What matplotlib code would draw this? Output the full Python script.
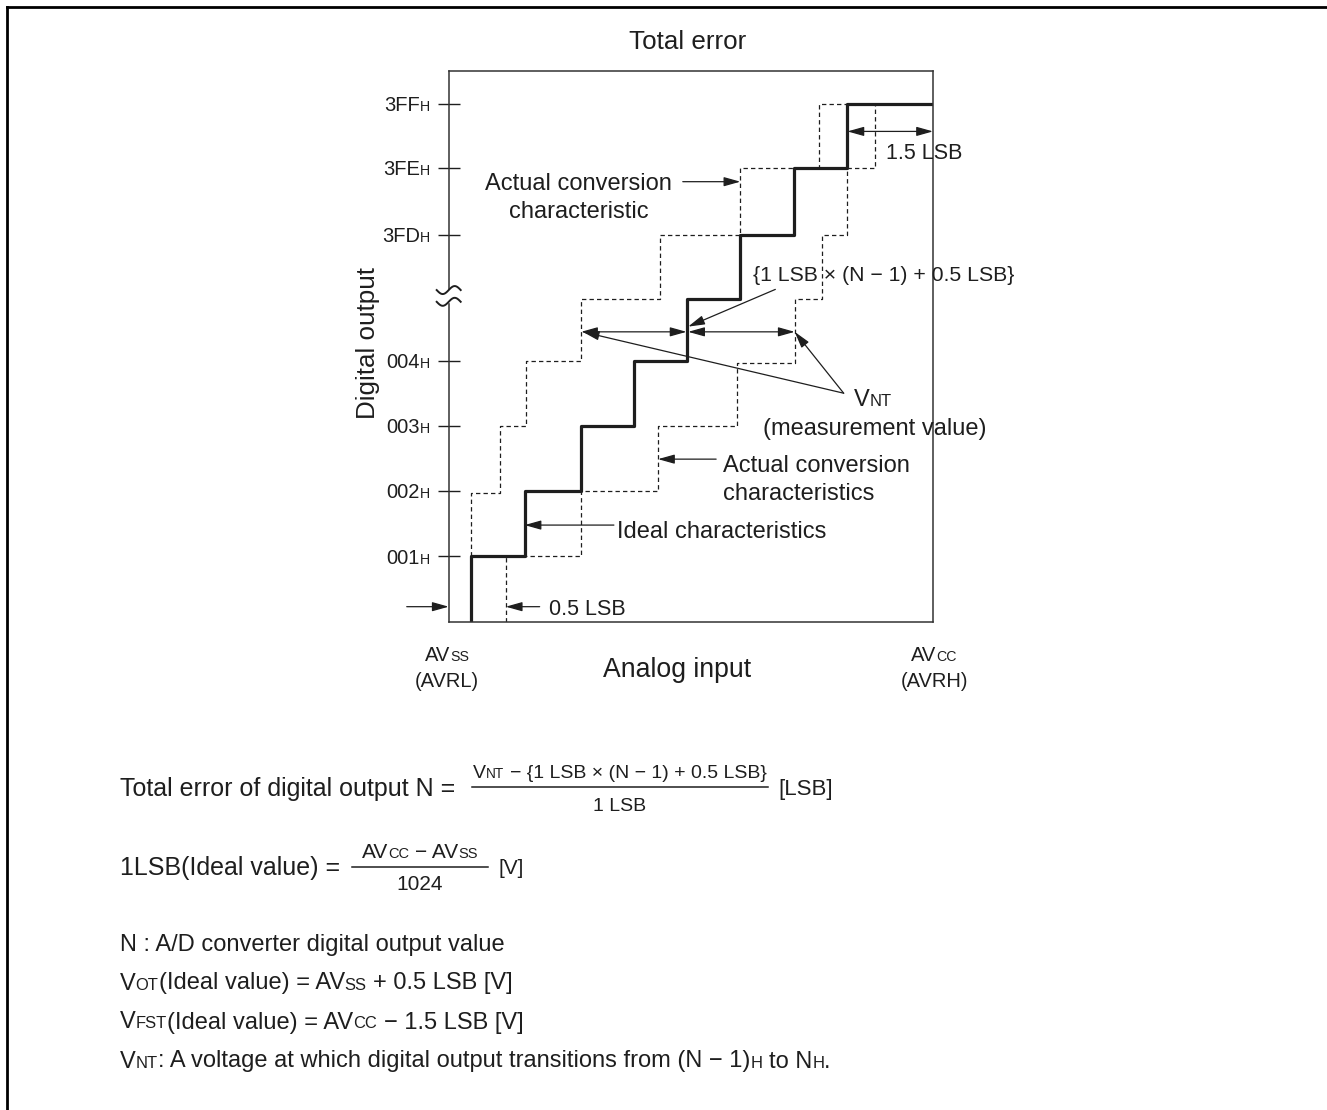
import re
import numpy as np
import matplotlib
matplotlib.use('Agg')
import matplotlib.pyplot as plt
from matplotlib.font_manager import FontProperties

FONT = ['Liberation Sans', 'DejaVu Sans']
INK = '#1e1e1e'
plt.rcParams['font.family'] = FONT

# staircases, x in LSB from AVss, y in output codes (break between 004H and 3FDH)
ideal_x = [0.41, 0.41, 1.41, 2.46, 3.44, 4.43, 5.42, 6.41, 7.41, 9.0]
ideal_y = [0, 1, 2, 3, 4, 4.94, 5.92, 6.95, 7.93, 7.93]
early_x = [0.41, 0.41, 0.96, 1.43, 2.46, 3.92, 5.42, 6.89, 7.41]
early_y = [1, 1.97, 3.0, 4.0, 4.94, 5.92, 6.95, 7.93, 7.93]
late_x = [1.06, 1.06, 2.46, 3.89, 5.35, 6.43, 6.93, 7.41, 7.92]
late_y = [0, 1, 2, 3, 3.97, 4.94, 5.92, 6.95, 7.93]

tick_pos = [1, 2, 3, 4, 5.92, 6.95, 7.93]
tick_names = ['001', '002', '003', '004', '3FD', '3FE', '3FF']

W, H = 1327, 1110
fig = plt.figure(figsize=(W / 100, H / 100), dpi=100)
ax = fig.add_axes([448.7 / W, 1 - 621.7 / H, 484.3 / W, 551 / H])
bg = fig.add_axes([0, 0, 1, 1], zorder=3)
bg.set_xlim(0, W)
bg.set_ylim(H, 0)
bg.axis('off')
bg.patch.set_visible(False)

ax.set_xlim(0, 9.0)
ax.set_ylim(0, 8.44)
ax.plot(ideal_x, ideal_y, drawstyle='steps-post', color=INK, lw=2.3)
ax.plot(early_x, early_y, drawstyle='steps-post', color=INK, lw=0.9, ls=(0, (3.5, 2.5)))
ax.plot(late_x, late_y, drawstyle='steps-post', color=INK, lw=0.9, ls=(0, (3.5, 2.5)))
ax.set_xticks([])
ax.set_yticks(tick_pos)
ax.set_yticklabels([])
ax.tick_params(axis='y', direction='inout', length=16, width=1.0, color=INK)
for sp in ax.spines.values():
    sp.set_linewidth(1.1)
    sp.set_color('#333333')

rend = fig.canvas.get_renderer()


def tw(s, fs):
    fp = FontProperties(family=FONT, size=fs)
    a = rend.get_text_width_height_descent('|' + s + '|', fp, ismath=False)[0]
    b = rend.get_text_width_height_descent('||', fp, ismath=False)[0]
    return a - b


def rich(x, y, s, fs, ha='left', small=0.7):
    """text with _{..} parts drawn small on the baseline, y is the centre"""
    pieces = re.split(r'_\{(.*?)\}', s)
    parts = [(p, fs * small if i % 2 else fs) for i, p in enumerate(pieces) if p]
    widths = [tw(p, z) for p, z in parts]
    total = sum(widths)
    x0 = x - {'left': 0, 'center': total / 2, 'right': total}[ha]
    yb = y + 0.5 * fs
    for (p, z), w in zip(parts, widths):
        lead = p[:len(p) - len(p.lstrip())]
        bg.text(x0 + (tw(lead, z) if lead else 0), yb, p.strip(), fontsize=z,
                color=INK, ha='left', va='baseline')
        x0 += w
    return total


def px(u, v):
    d = ax.transData.transform((u, v))
    return d[0], H - d[1]


def arrow(p0, p1, style='-|>'):
    ax.annotate('', xy=p1, xytext=p0, annotation_clip=False,
                arrowprops=dict(arrowstyle=style + ',head_length=0.5,head_width=0.14',
                                mutation_scale=20, lw=0.9, color=INK,
                                shrinkA=0, shrinkB=0))


# outer frame
bg.plot([7, 7], [H, 7], color='black', lw=2)
bg.plot([7, W], [7, 7], color='black', lw=2)

# axis break on the left spine
bx, _ = px(0, 0)
by0, by1 = px(0, 4.90)[1], px(0, 5.08)[1]
bg.fill_between([bx - 3, bx + 3], by0, by1, color='white', zorder=4)
t = np.linspace(-1, 1, 30)
for yy in (by0, by1):
    bg.plot(bx + 12 * t, yy - 4 * np.sin(np.pi * t), color=INK, lw=1.4, zorder=5)

# tick labels
for v, name in zip(tick_pos, tick_names):
    rich(430, px(0, v)[1], name + '_{H}', 14.5, 'right')

rich(688, 40, 'Total error', 18.7, 'center')
bg.text(368, 343, 'Digital output', fontsize=18.7, rotation=90, ha='center', va='center', color=INK)
rich(447, 654, 'AV_{SS}', 14.5, 'center')
rich(447, 680, '(AVRL)', 14.5, 'center')
rich(934, 654, 'AV_{CC}', 14.5, 'center')
rich(934, 680, '(AVRH)', 14.5, 'center')
rich(677, 667, 'Analog input', 19.2, 'center')

# annotations inside the chart
arrow((7.41, 7.51), (9.0, 7.51), '<|-|>')
rich(886, 151, '1.5 LSB', 15.5)
arrow((4.35, 6.74), (5.42, 6.74))
rich(578.5, 182, 'Actual conversion', 17, 'center')
rich(578.5, 210, 'characteristic', 17, 'center')
arrow((6.07, 5.09), (4.45, 4.52))
rich(753, 273, '{1 LSB × (N − 1) + 0.5 LSB}', 15.3)
arrow((2.46, 4.44), (4.42, 4.44), '<|-|>')
arrow((4.45, 4.44), (6.43, 4.44), '<|-|>')
arrow((7.34, 3.50), (2.49, 4.44))
arrow((7.34, 3.50), (6.43, 4.44))
rich(873, 398, 'V_{NT}', 17, 'center')
rich(875, 427, '(measurement value)', 17, 'center')
arrow((4.97, 2.49), (3.89, 2.49))
rich(723, 463, 'Actual conversion', 17)
rich(723, 492, 'characteristics', 17)
arrow((3.07, 1.48), (1.41, 1.48))
rich(617, 529, 'Ideal characteristics', 17)
arrow((1.69, 0.23), (1.06, 0.23))
arrow((-0.78, 0.23), (0, 0.23))
rich(549, 607, '0.5 LSB', 15.5)

# formulas below the chart
rich(120, 787, 'Total error of digital output N =', 18)
rich(620, 771, 'V_{NT} − {1 LSB × (N − 1) + 0.5 LSB}', 14, 'center')
bg.plot([472, 768], [787, 787], color=INK, lw=1.1)
rich(620, 804, '1 LSB', 14, 'center')
rich(778, 787, '[LSB]', 16)

rich(120, 866, '1LSB(Ideal value) =', 18)
rich(420, 851, 'AV_{CC} − AV_{SS}', 15, 'center')
bg.plot([352, 488], [867, 867], color=INK, lw=1.1)
rich(420, 882, '1024', 15, 'center')
rich(498, 866, '[V]', 15)

rich(120, 942, 'N : A/D converter digital output value', 17)
rich(120, 981, 'V_{OT}(Ideal value) = AV_{SS} + 0.5 LSB [V]', 17)
rich(120, 1020, 'V_{FST}(Ideal value) = AV_{CC} − 1.5 LSB [V]', 17)
rich(120, 1059, 'V_{NT}: A voltage at which digital output transitions from (N − 1)_{H} to N_{H}.', 17)

fig.savefig('out.png', dpi=100)
